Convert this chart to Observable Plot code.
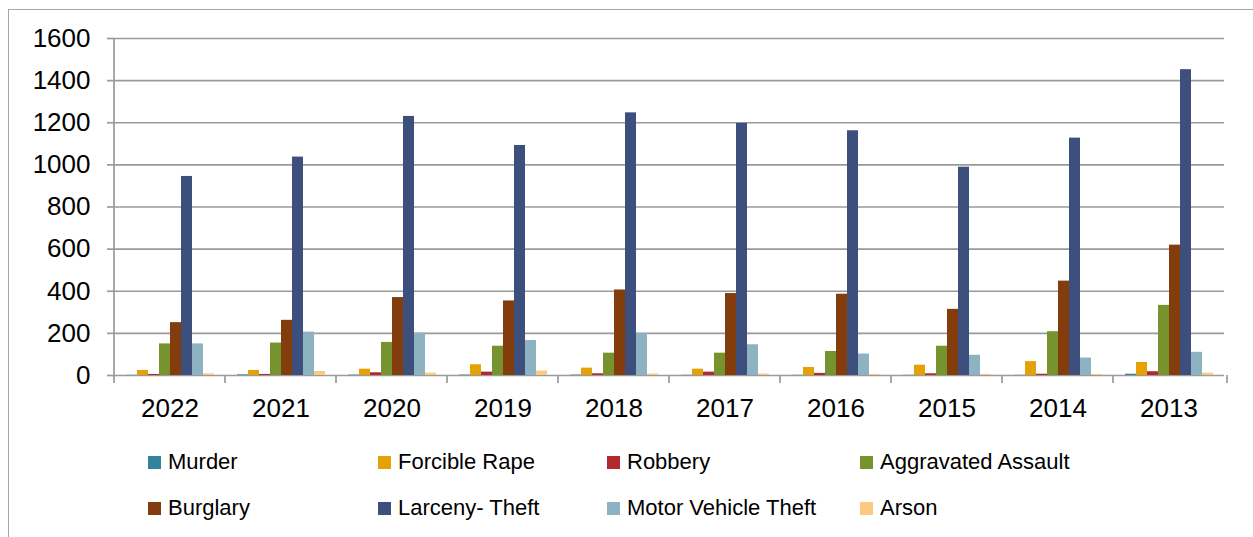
<!DOCTYPE html>
<html>
<head>
<meta charset="utf-8">
<script src="https://cdn.jsdelivr.net/npm/d3@7"></script>
<script src="https://cdn.jsdelivr.net/npm/@observablehq/plot@0.6"></script>
<style>
  html, body { margin: 0; padding: 0; background: #fff; overflow: hidden; }
  body { width: 1253px; height: 537px; position: relative; font-family: "Liberation Sans", Arial, sans-serif; }
  #border { position: absolute; left: 8px; top: 9px; width: 1260px; height: 540px; border: 1px solid #a6a6a6; box-sizing: border-box; }
  #chart { position: absolute; left: 0; top: 0; }
  #legend { position: absolute; left: 148px; top: 439px; display: grid; grid-template-columns: 230px 229px 253px 200px; grid-auto-rows: 46px; font-size: 22px; color: #000; }
  #legend .item { display: flex; align-items: center; white-space: nowrap; }
  #legend .sw { width: 13px; height: 13px; margin-right: 7px; flex: none; }
</style>
</head>
<body>
<div id="border"></div>
<div id="chart"></div>
<div id="legend"></div>
<script>
const years = ["2022", "2021", "2020", "2019", "2018", "2017", "2016", "2015", "2014", "2013"];
const crimes = ["Murder", "Forcible Rape", "Robbery", "Aggravated Assault", "Burglary", "Larceny- Theft", "Motor Vehicle Theft", "Arson"];
const murder = [1, 3, 2, 2, 2, 1, 1, 1, 1, 6];
const forcibleRape = [24, 24, 30, 51, 35, 30, 38, 49, 66, 62];
const robbery = [5, 5, 13, 16, 8, 16, 10, 8, 6, 18];
const aggravatedAssault = [150, 154, 157, 139, 106, 106, 114, 139, 208, 333];
const burglary = [251, 262, 370, 354, 406, 389, 386, 314, 448, 619];
const larcenyTheft = [945, 1037, 1230, 1092, 1247, 1197, 1162, 989, 1127, 1452];
const motorVehicleTheft = [150, 206, 201, 166, 198, 146, 102, 96, 83, 110];
const arson = [8, 19, 11, 21, 7, 7, 5, 5, 5, 11];
const colors = ["#31849b", "#e5a206", "#b2292e", "#77932d", "#833c0b", "#3d4f7c", "#8db3c2", "#fcc983"];
const yTicks = [0, 200, 400, 600, 800, 1000, 1200, 1400, 1600];

const series = [murder, forcibleRape, robbery, aggravatedAssault, burglary, larcenyTheft, motorVehicleTheft, arson];
const rows = years.flatMap((year, i) => crimes.map((crime, j) => ({year, crime, value: series[j][i]})));

const gridColor = "#9a9a9a";

const chart = Plot.plot({
  width: 1253,
  height: 420,
  marginLeft: 111,
  marginRight: 26,
  marginTop: 38,
  marginBottom: 45,
  style: {fontFamily: "'Liberation Sans', Arial, sans-serif", fontSize: "26px", color: "#000", background: "transparent", overflow: "visible"},
  facet: {data: rows, x: "year"},
  fx: {domain: years, padding: 0, label: null},
  x: {domain: crimes, paddingInner: 0, paddingOuter: 0.77, axis: null},
  y: {domain: [0, 1600], label: null},
  color: {domain: crimes, range: colors},
  marks: [
    Plot.ruleY(yTicks, {stroke: gridColor, strokeWidth: 1.7}),
    Plot.barY(rows, {x: "crime", y: "value", fill: "crime"}),
    Plot.axisY(yTicks, {tickSize: 7, tickPadding: 17, tickFormat: "d", stroke: gridColor, strokeWidth: 1.7, label: null}),
    Plot.axisFx({anchor: "bottom", tickSize: 0, tickPadding: 23, label: null})
  ]
});
document.getElementById("chart").appendChild(chart);

// axis line and category boundary ticks, placed from Plot's own scales
const fx = chart.scale("fx");
const ys = chart.scale("y");
const svg = d3.select(chart.tagName.toLowerCase() === "svg" ? chart : chart.querySelector("svg"));
const y0 = ys.apply(0);
const yBottom = y0 + 8;
const g = svg.append("g").attr("stroke", gridColor).attr("stroke-width", 1.7);
const left = fx.apply(years[0]);
g.append("line").attr("x1", left).attr("x2", left).attr("y1", ys.apply(yTicks[yTicks.length - 1])).attr("y2", yBottom);
const bounds = years.slice(1).map(yr => fx.apply(yr)).concat([fx.range[1]]);
bounds.forEach(x => g.append("line").attr("x1", x).attr("x2", x).attr("y1", y0).attr("y2", yBottom));

// legend
const legend = document.getElementById("legend");
crimes.forEach((crime, j) => {
  const item = document.createElement("div");
  item.className = "item";
  const sw = document.createElement("span");
  sw.className = "sw";
  sw.style.background = colors[j];
  const label = document.createElement("span");
  label.textContent = crime;
  item.appendChild(sw);
  item.appendChild(label);
  legend.appendChild(item);
});
</script>
</body>
</html>
